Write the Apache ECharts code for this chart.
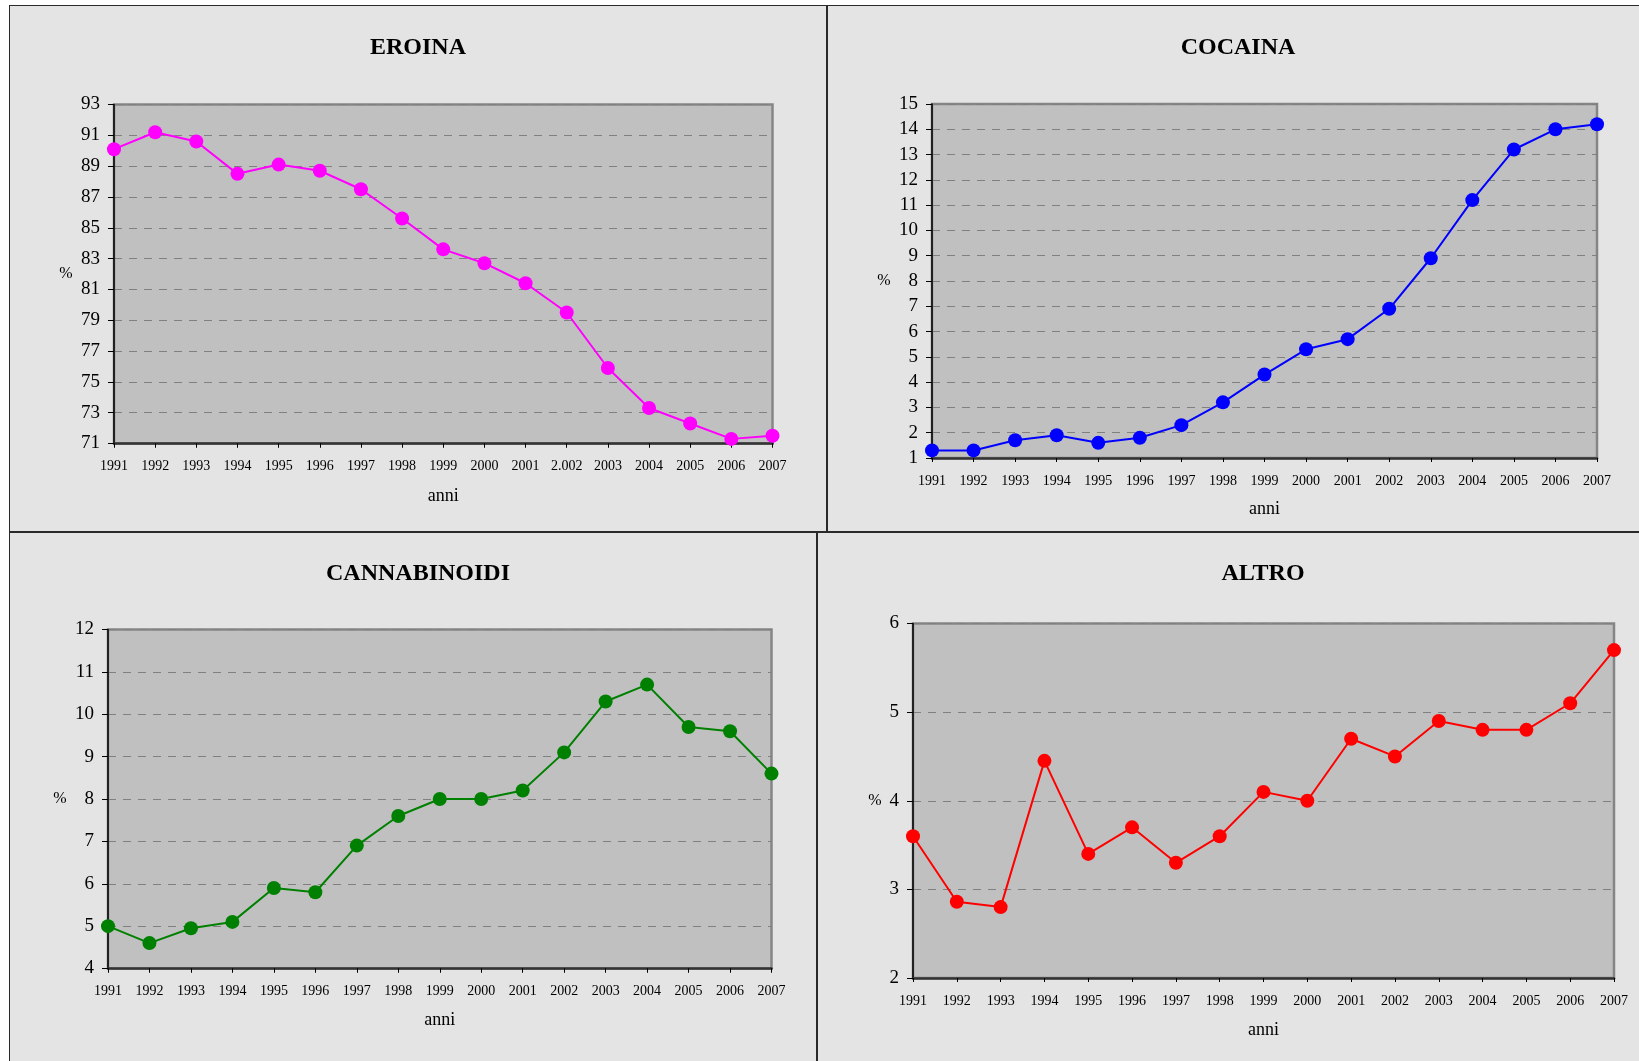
<!DOCTYPE html>
<html>
<head>
<meta charset="utf-8">
<script src="https://cdn.jsdelivr.net/npm/echarts@6/dist/echarts.min.js"></script>
<style>
  html, body { margin: 0; padding: 0; background: #fff; overflow: hidden; }
  .panel { position: absolute; background: #e4e4e4; }
  .line { position: absolute; background: #2a2a2a; }
  #main { position: absolute; left: 0; top: 0; width: 1639px; height: 1061px; }
</style>
</head>
<body>
<!-- pannelli di sfondo -->
<div class="panel" style="left:9px;top:5px;width:1640px;height:1070px"></div>
<div class="line" style="left:9px;top:5px;width:1640px;height:1px"></div>
<div class="line" style="left:9px;top:5px;width:1px;height:1070px"></div>
<div class="line" style="left:826px;top:5px;width:2px;height:527px"></div>
<div class="line" style="left:9px;top:531px;width:1640px;height:2px"></div>
<div class="line" style="left:816px;top:532px;width:2px;height:540px"></div>
<div id="main"></div>
<script>
// anni
const years = ['1991', '1992', '1993', '1994', '1995', '1996', '1997', '1998', '1999',
  '2000', '2001', '2002', '2003', '2004', '2005', '2006', '2007'];
// nel grafico eroina il 2002 è scritto "2.002"
const eroinaLabels = ['1991', '1992', '1993', '1994', '1995', '1996', '1997', '1998', '1999',
  '2000', '2001', '2.002', '2003', '2004', '2005', '2006', '2007'];

// valori %
const eroina = [90.1, 91.2, 90.6, 88.5, 89.1, 88.7, 87.5, 85.6, 83.6, 82.7, 81.4, 79.5, 75.9, 73.3, 72.3, 71.3, 71.5];
const cocaina = [1.3, 1.3, 1.7, 1.9, 1.6, 1.8, 2.3, 3.2, 4.3, 5.3, 5.7, 6.9, 8.9, 11.2, 13.2, 14.0, 14.2];
const cannabinoidi = [5.0, 4.6, 4.95, 5.1, 5.9, 5.8, 6.9, 7.6, 8.0, 8.0, 8.2, 9.1, 10.3, 10.7, 9.7, 9.6, 8.6];
const altro = [3.6, 2.86, 2.8, 4.45, 3.4, 3.7, 3.3, 3.6, 4.1, 4.0, 4.7, 4.5, 4.9, 4.8, 4.8, 5.1, 5.7];

const serif = 'Liberation Serif';

const panels = [
  { title: 'EROINA', titleX: 413, titleY: 31, grid: { left: 114, top: 104.5, width: 658.5, height: 339 },
    labels: eroinaLabels, data: eroina, color: '#ff00ff', min: 71, max: 93, interval: 2, pctGap: 48, anniGap: 44 },
  { title: 'COCAINA', titleX: 1233, titleY: 31, grid: { left: 932, top: 104, width: 665, height: 354 },
    labels: years, data: cocaina, color: '#0000ff', min: 1, max: 15, interval: 1, pctGap: 48, anniGap: 42 },
  { title: 'CANNABINOIDI', titleX: 413, titleY: 557, grid: { left: 108, top: 629.5, width: 663.5, height: 339 },
    labels: years, data: cannabinoidi, color: '#008000', min: 4, max: 12, interval: 1, pctGap: 48, anniGap: 43 },
  { title: 'ALTRO', titleX: 1258, titleY: 557, grid: { left: 913, top: 623.5, width: 701, height: 354.5 },
    labels: years, data: altro, color: '#ff0000', min: 2, max: 6, interval: 1, pctGap: 38, anniGap: 43 }
];

const option = {
  animation: false,
  title: [],
  grid: [],
  xAxis: [],
  yAxis: [],
  series: []
};

panels.forEach(function (p, i) {
  option.title.push({
    text: p.title,
    left: p.titleX,
    top: p.titleY,
    textAlign: 'center',
    textStyle: { fontFamily: serif, fontWeight: 'bold', fontSize: 24, color: '#000' }
  });
  option.grid.push(Object.assign({
    show: true,
    backgroundColor: '#c0c0c0',
    borderColor: '#858585',
    borderWidth: 2.5,
    containLabel: false,
    outerBoundsMode: 'none'
  }, p.grid));
  option.xAxis.push({
    type: 'category',
    gridIndex: i,
    data: p.labels,
    boundaryGap: false,
    name: 'anni',
    nameLocation: 'middle',
    nameGap: p.anniGap,
    nameTextStyle: { fontFamily: serif, fontSize: 18, color: '#000', verticalAlign: 'top' },
    axisLine: { lineStyle: { color: '#333', width: 2.5 } },
    axisTick: { show: true, length: 4, lineStyle: { color: '#000', width: 1 } },
    axisLabel: { fontFamily: serif, fontSize: 14, color: '#000', margin: 16, interval: 0 },
    splitLine: { show: false }
  });
  // copia dell'asse x solo per le tacche che attraversano la linea
  option.xAxis.push({
    type: 'category',
    gridIndex: i,
    data: p.labels,
    boundaryGap: false,
    position: 'top',
    offset: -p.grid.height,
    axisLine: { show: false },
    axisTick: { show: true, inside: true, length: 4, lineStyle: { color: '#000', width: 1 } },
    axisLabel: { show: false },
    splitLine: { show: false }
  });
  option.yAxis.push({
    type: 'value',
    gridIndex: i,
    min: p.min,
    max: p.max,
    interval: p.interval,
    name: '%',
    nameLocation: 'middle',
    nameRotate: 0,
    nameGap: p.pctGap,
    nameTextStyle: { fontFamily: serif, fontSize: 16, color: '#000', align: 'center', verticalAlign: 'middle' },
    axisLine: { show: true, lineStyle: { color: '#000', width: 1.5 } },
    axisTick: { show: true, length: 6, lineStyle: { color: '#000', width: 1 } },
    axisLabel: { fontFamily: serif, fontSize: 19, color: '#000', margin: 14 },
    splitLine: { show: true, lineStyle: { color: '#808080', width: 1.2, type: [8, 7] } }
  });
  option.series.push({
    type: 'line',
    xAxisIndex: i * 2,
    yAxisIndex: i,
    data: p.data,
    symbol: 'circle',
    symbolSize: 14,
    lineStyle: { color: p.color, width: 2 },
    itemStyle: { color: p.color },
    z: 5
  });
});

const chart = echarts.init(document.getElementById('main'), null, { renderer: 'canvas' });
chart.setOption(option);
</script>
</body>
</html>
